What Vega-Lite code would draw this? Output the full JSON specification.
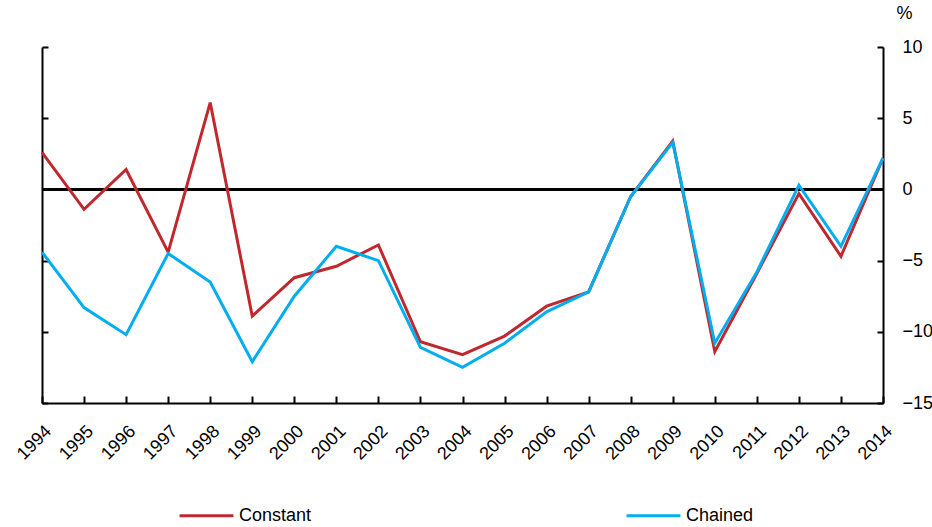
{
  "$schema": "https://vega.github.io/schema/vega-lite/v6.json",
  "width": 841,
  "height": 356,
  "autosize": {"type": "none"},
  "padding": {"left": 42, "top": 47, "right": 49, "bottom": 124},
  "config": {
    "view": {"stroke": null},
    "font": "Liberation Sans",
    "axis": {
      "domainColor": "black",
      "tickColor": "black",
      "labelColor": "black",
      "titleColor": "black",
      "grid": false,
      "labelFontSize": 18,
      "domainWidth": 2,
      "tickWidth": 2
    }
  },
  "data": {
    "values": [
      {"year": 1994, "series": "Constant", "value": 2.6},
      {"year": 1995, "series": "Constant", "value": -1.4},
      {"year": 1996, "series": "Constant", "value": 1.4},
      {"year": 1997, "series": "Constant", "value": -4.4},
      {"year": 1998, "series": "Constant", "value": 6.1},
      {"year": 1999, "series": "Constant", "value": -8.9},
      {"year": 2000, "series": "Constant", "value": -6.2},
      {"year": 2001, "series": "Constant", "value": -5.4},
      {"year": 2002, "series": "Constant", "value": -3.9},
      {"year": 2003, "series": "Constant", "value": -10.7},
      {"year": 2004, "series": "Constant", "value": -11.6},
      {"year": 2005, "series": "Constant", "value": -10.3},
      {"year": 2006, "series": "Constant", "value": -8.2},
      {"year": 2007, "series": "Constant", "value": -7.2},
      {"year": 2008, "series": "Constant", "value": -0.5},
      {"year": 2009, "series": "Constant", "value": 3.4},
      {"year": 2010, "series": "Constant", "value": -11.4},
      {"year": 2011, "series": "Constant", "value": -5.9},
      {"year": 2012, "series": "Constant", "value": -0.3},
      {"year": 2013, "series": "Constant", "value": -4.7},
      {"year": 2014, "series": "Constant", "value": 2.2},
      {"year": 1994, "series": "Chained", "value": -4.4},
      {"year": 1995, "series": "Chained", "value": -8.3},
      {"year": 1996, "series": "Chained", "value": -10.2},
      {"year": 1997, "series": "Chained", "value": -4.5},
      {"year": 1998, "series": "Chained", "value": -6.5},
      {"year": 1999, "series": "Chained", "value": -12.1},
      {"year": 2000, "series": "Chained", "value": -7.5},
      {"year": 2001, "series": "Chained", "value": -4.0},
      {"year": 2002, "series": "Chained", "value": -5.0},
      {"year": 2003, "series": "Chained", "value": -11.1},
      {"year": 2004, "series": "Chained", "value": -12.5},
      {"year": 2005, "series": "Chained", "value": -10.8},
      {"year": 2006, "series": "Chained", "value": -8.6},
      {"year": 2007, "series": "Chained", "value": -7.2},
      {"year": 2008, "series": "Chained", "value": -0.5},
      {"year": 2009, "series": "Chained", "value": 3.3},
      {"year": 2010, "series": "Chained", "value": -10.8},
      {"year": 2011, "series": "Chained", "value": -5.8},
      {"year": 2012, "series": "Chained", "value": 0.3},
      {"year": 2013, "series": "Chained", "value": -4.0},
      {"year": 2014, "series": "Chained", "value": 2.2}
    ]
  },
  "layer": [
    {
      "mark": {"type": "rule", "color": "black", "strokeWidth": 2},
      "encoding": {
        "y": {
          "datum": 0,
          "type": "quantitative",
          "scale": {"domain": [-15, 10], "nice": false, "zero": false},
          "axis": {
            "orient": "right",
            "values": [-15, -10, -5, 0, 5, 10],
            "tickSize": -6,
            "labelPadding": 25,
            "labelAlign": "left",
            "title": "%",
            "titleAngle": 0,
            "titleFontSize": 18,
            "titleFontWeight": "normal",
            "titleX": 21,
            "titleY": -25,
            "titleAlign": "center"
          }
        }
      }
    },
    {
      "transform": [{"filter": "datum.series === 'Constant'"}],
      "mark": {"type": "line", "strokeWidth": 3},
      "encoding": {
        "x": {
          "field": "year",
          "type": "quantitative",
          "scale": {"domain": [1994, 2014], "nice": false, "zero": false},
          "axis": {
            "title": null,
            "values": [1994, 1995, 1996, 1997, 1998, 1999, 2000, 2001, 2002, 2003, 2004, 2005, 2006, 2007, 2008, 2009, 2010, 2011, 2012, 2013, 2014],
            "format": "d",
            "labelAngle": -45,
            "tickSize": -7,
            "labelPadding": 26,
            "labelFontSize": 18
          }
        },
        "y": {
          "field": "value",
          "type": "quantitative",
          "scale": {"domain": [-15, 10], "nice": false, "zero": false},
          "axis": {
            "orient": "left",
            "values": [-15, -10, -5, 0, 5, 10],
            "tickSize": -6,
            "labels": false,
            "title": null
          }
        },
        "color": {
          "field": "series",
          "type": "nominal",
          "scale": {"domain": ["Constant", "Chained"], "range": ["#C0282D", "#00AEEF"]},
          "legend": {
            "title": null,
            "orient": "none",
            "legendX": 136,
            "legendY": 440,
            "direction": "horizontal",
            "columns": 2,
            "columnPadding": 308,
            "symbolType": "stroke",
            "symbolSize": 2900,
            "symbolStrokeWidth": 3,
            "labelFontSize": 18,
            "labelColor": "black",
            "labelOffset": 4
          }
        }
      }
    },
    {
      "transform": [{"filter": "datum.series === 'Chained'"}],
      "mark": {"type": "line", "strokeWidth": 3},
      "encoding": {
        "x": {
          "field": "year",
          "type": "quantitative",
          "scale": {"domain": [1994, 2014], "nice": false, "zero": false}
        },
        "y": {
          "field": "value",
          "type": "quantitative",
          "scale": {"domain": [-15, 10], "nice": false, "zero": false},
          "axis": null
        },
        "color": {
          "field": "series",
          "type": "nominal",
          "scale": {"domain": ["Constant", "Chained"], "range": ["#C0282D", "#00AEEF"]}
        }
      }
    }
  ],
  "resolve": {"axis": {"y": "independent"}}
}
